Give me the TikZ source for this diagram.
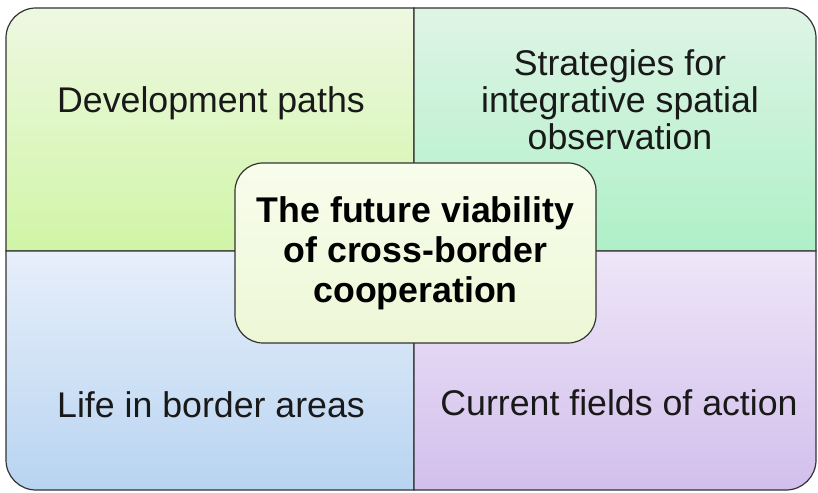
\documentclass[tikz,border=0pt]{standalone}
\usepackage{fontspec}
\setmainfont{Liberation Sans}
\definecolor{tlA}{HTML}{EEF8E2}
\definecolor{tlB}{HTML}{D0F5A6}
\definecolor{trA}{HTML}{DFF4E6}
\definecolor{trB}{HTML}{AEF0C7}
\definecolor{blA}{HTML}{E7EFFA}
\definecolor{blB}{HTML}{B8D4F1}
\definecolor{brA}{HTML}{EEE6F8}
\definecolor{brB}{HTML}{D2BFEC}
\definecolor{ceA}{HTML}{F8FDEC}
\definecolor{ceB}{HTML}{EDF7D6}
\tikzset{
  quarter/.style={draw=black!80,line width=1.2pt},
  txt/.style={align=center,text=black!90,font=\fontsize{35.7}{37}\selectfont},
  core/.style={draw=black!80,line width=1.2pt,rounded corners=28pt,top color=ceA,bottom color=ceB,
    minimum width=361pt,minimum height=180pt,align=center,font=\bfseries\fontsize{35.7}{40}\selectfont}
}
\begin{document}
\begin{tikzpicture}[x=1pt,y=1pt]
\useasboundingbox(0,0)rectangle(818,492);
%quarters
\path[quarter,top color=tlA,bottom color=tlB](6,241)--(6,454)arc[start angle=180,end angle=90,radius=30]--(414,484)--(414,241)--cycle;
\path[quarter,top color=trA,bottom color=trB](414,241)--(414,484)--(786,484)arc[start angle=90,end angle=0,radius=30]--(816,241)--cycle;
\path[quarter,top color=blA,bottom color=blB](6,241)--(6,32)arc[start angle=180,end angle=270,radius=30]--(414,2)--(414,241)--cycle;
\path[quarter,top color=brA,bottom color=brB](414,241)--(414,2)--(786,2)arc[start angle=270,end angle=360,radius=30]--(816,241)--cycle;
%labels
\node[txt](dev)at(211,389){Development paths};
\node[txt](strat)at(620,392){Strategies for\\integrative spatial\\observation};
\node[txt](life)at(211,87){Life in border areas};
\node[txt](curr)at(619,89){Current fields of action};
%centre
\node[core](future)at(415.5,239){The future viability\\of cross-border\\cooperation};
\end{tikzpicture}
\end{document}
